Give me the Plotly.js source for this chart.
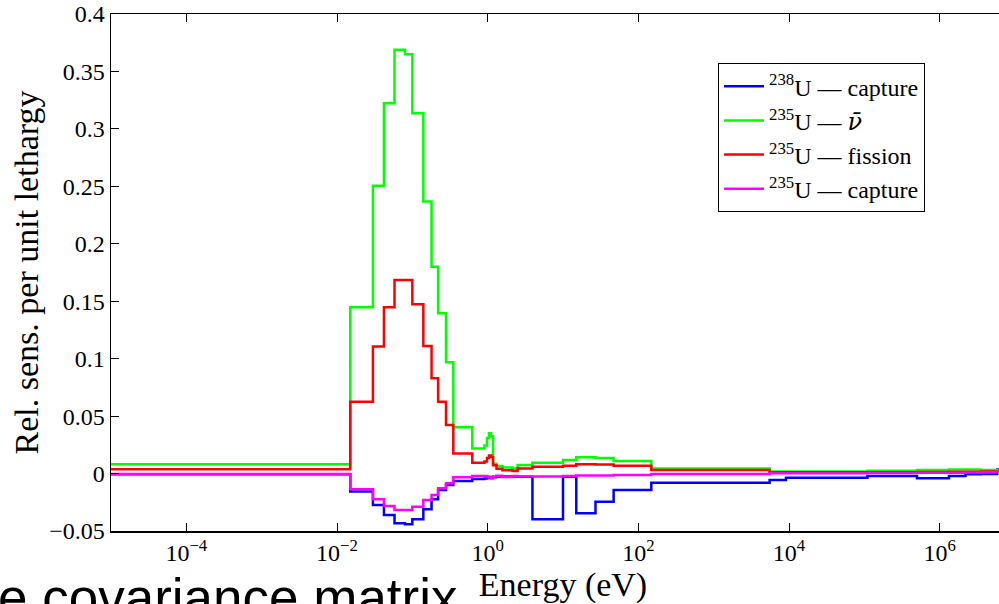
<!DOCTYPE html>
<html>
<head>
<meta charset="utf-8">
<script src="https://cdn.plot.ly/plotly-3.0.1.min.js"></script>
<style>
  html, body { margin: 0; padding: 0; overflow: hidden; background: #fff; }
  #chart { width: 1030px; height: 604px; }
</style>
</head>
<body>
<div id="chart"></div>
<script>
// Group energy boundaries (eV)
const energyEdges = [1e-5, 0.015, 0.030, 0.042, 0.058, 0.080, 0.100, 0.140, 0.180, 0.220, 0.280, 0.350,
  0.625, 0.906, 0.98, 1.04, 1.11, 1.18, 1.31, 1.57, 2.13, 2.50, 3.93, 10, 15, 27, 47, 148.7,
  5530, 9118, 1.1e5, 5e5, 1.33e6, 2.2e6, 3.5e6, 5.8e6, 1e7];

// Relative sensitivity per unit lethargy, one value per group
const u238Capture = [-0.0006, -0.0157, -0.0273, -0.0360, -0.0433, -0.0441, -0.0398, -0.0310, -0.0224, -0.0143, -0.0099,
  -0.0064, -0.0048, -0.0042, -0.0038, -0.0035, -0.0030, -0.0033, -0.0027, -0.0025, -0.0025, -0.0027,
  -0.0398, -0.0027, -0.0346, -0.0245, -0.0143, -0.0079, -0.0056, -0.0036, -0.0021, -0.0041, -0.0021,
  -0.0006, -0.0003, 0.0035];
const u235Nubar = [0.0081, 0.1447, 0.2506, 0.3223, 0.3688, 0.3650, 0.3136, 0.2367, 0.1800, 0.1395, 0.0968,
  0.0404, 0.0218, 0.0245, 0.0310, 0.0350, 0.0325, 0.0085, 0.0065, 0.0052, 0.0045, 0.0075,
  0.0095, 0.0118, 0.0142, 0.0135, 0.0110, 0.0043, 0.0017, 0.0018, 0.0025, 0.0030, 0.0035,
  0.0035, 0.0030, 0.0017];
const u235Fission = [0.0037, 0.0626, 0.1105, 0.1447, 0.1685, 0.1685, 0.1473, 0.1110, 0.0829, 0.0626, 0.0423,
  0.0175, 0.0093, 0.0105, 0.0135, 0.0158, 0.0145, 0.0072, 0.0042, 0.0028, 0.0022, 0.0045,
  0.0060, 0.0069, 0.0081, 0.0078, 0.0069, 0.0031, 0.0011, 0.0011, 0.0012, 0.0013, 0.0015,
  0.0016, 0.0017, 0.0017];
const u235Capture = [-0.0003, -0.0137, -0.0224, -0.0282, -0.0317, -0.0317, -0.0288, -0.0230, -0.0186, -0.0128, -0.0084,
  -0.0032, -0.0022, -0.0022, -0.0025, -0.0035, -0.0042, -0.0025, -0.0020, -0.0030, -0.0022, -0.0025,
  -0.0025, -0.0022, -0.0018, -0.0018, -0.0012, -0.0004, 0.0003, 0.0003, 0.0005, 0.0006, 0.0008,
  0.0010, 0.0012, 0.0014];

const seriesNames = [
  '<sup>238</sup>U — capture',
  '<sup>235</sup>U — <span style="font-family:DejaVu Serif"><i>ν̄</i></span>',
  '<sup>235</sup>U — fission',
  '<sup>235</sup>U — capture'
];
const seriesColors = ['#0000ff', '#00ff00', '#ff0000', '#ff00ff'];
const seriesValues = [u238Capture, u235Nubar, u235Fission, u235Capture];

const xTickVals = [1e-4, 1e-2, 1, 1e2, 1e4, 1e6];
const xTickText = ['10<sup>−4</sup>', '10<sup>−2</sup>', '10<sup>0</sup>', '10<sup>2</sup>', '10<sup>4</sup>', '10<sup>6</sup>'];
const yTickVals = [-0.05, 0, 0.05, 0.1, 0.15, 0.2, 0.25, 0.3, 0.35, 0.4];
const yTickText = ['−0.05', '0', '0.05', '0.1', '0.15', '0.2', '0.25', '0.3', '0.35', '0.4'];

const serif = 'Liberation Serif, Times New Roman, serif';

const traces = seriesValues.map((vals, i) => ({
  type: 'scatter',
  mode: 'lines',
  name: seriesNames[i],
  legendgroup: 'g' + i,
  x: energyEdges,
  y: vals.concat([vals[vals.length - 1]]),
  line: { shape: 'hv', color: seriesColors[i], width: 2.5 },
  hoverinfo: 'x+y'
}));

const layout = {
  width: 1030,
  height: 604,
  margin: { l: 111, r: 15, t: 14, b: 73 },
  paper_bgcolor: '#fff',
  plot_bgcolor: '#fff',
  showlegend: true,
  legend: {
    x: 0.6715, y: 0.905, xanchor: 'left', yanchor: 'top',
    bgcolor: '#fff', bordercolor: '#000', borderwidth: 1,
    font: { family: serif, size: 24, color: '#000' },
    tracegroupgap: 0,
    itemwidth: 40
  },
  xaxis: {
    type: 'log',
    range: [-5, 7],
    tickmode: 'array',
    tickvals: xTickVals,
    ticktext: xTickText,
    ticks: 'inside',
    ticklen: 8,
    tickcolor: '#000',
    showline: true,
    linecolor: '#000',
    linewidth: 1.5,
    mirror: 'ticks',
    showgrid: false,
    zeroline: false,
    tickfont: { family: serif, size: 24, color: '#000' },
    title: { text: 'Energy (eV)', font: { family: serif, size: 34, color: '#000' }, standoff: 0 }
  },
  yaxis: {
    range: [-0.05, 0.4],
    tickmode: 'array',
    tickvals: yTickVals,
    ticktext: yTickText,
    ticks: 'inside',
    ticklen: 8,
    tickcolor: '#000',
    showline: true,
    linecolor: '#000',
    linewidth: 1.5,
    mirror: 'ticks',
    showgrid: false,
    zeroline: false,
    tickfont: { family: serif, size: 24, color: '#000' },
    title: { text: 'Rel. sens. per unit lethargy', font: { family: serif, size: 34, color: '#000' }, standoff: 0 }
  },
  annotations: [{
    text: 'e covariance matrix',
    xref: 'paper', yref: 'paper',
    x: -0.1272, y: -0.068,
    xanchor: 'left', yanchor: 'top',
    showarrow: false,
    font: { family: 'Liberation Sans, Arial, sans-serif', size: 53, color: '#000' }
  }]
};

Plotly.newPlot('chart', traces, layout, { staticPlot: true, displayModeBar: false });
</script>
</body>
</html>
